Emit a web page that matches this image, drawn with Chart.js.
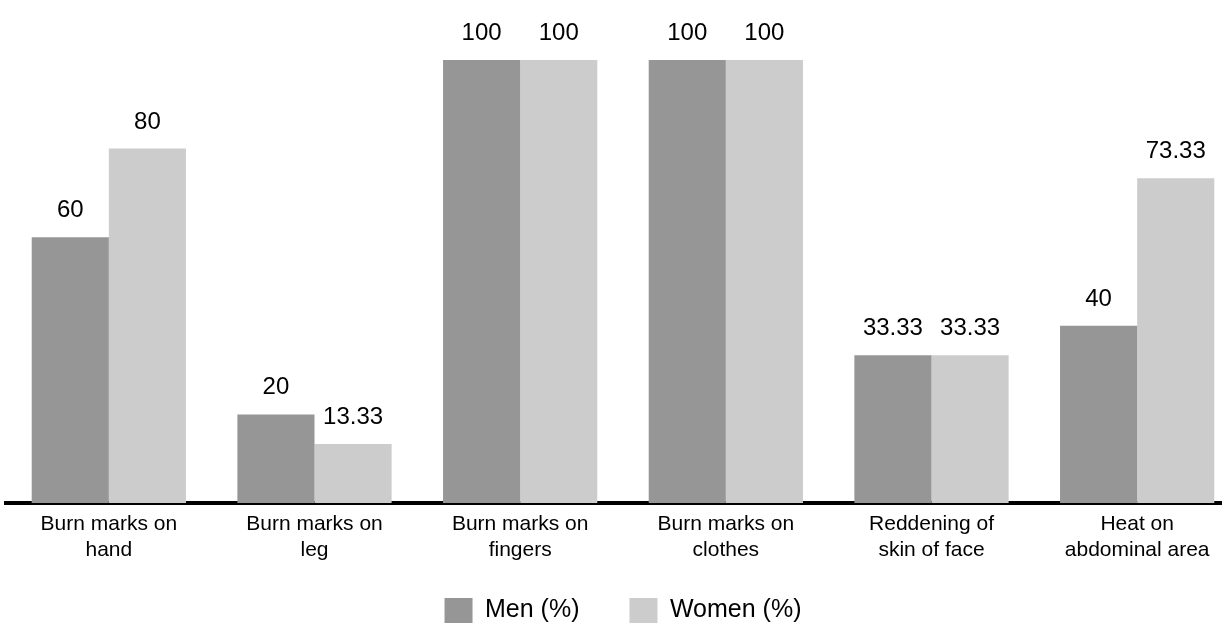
<!DOCTYPE html>
<html lang="en">
  <head>
    <meta charset="UTF-8" />
    <title>Burn marks by sex</title>
    <script src="https://cdn.jsdelivr.net/npm/chart.js"></script>
    <style>
      body {
        margin: 0;
        background: #fff;
        overflow: hidden;
      }
      canvas {
        display: block;
      }
    </style>
  </head>
  <body>
    <canvas id="burnChart" width="1240" height="633"></canvas>

    <script>
      const categories = [
        ["Burn marks on", "hand"],
        ["Burn marks on", "leg"],
        ["Burn marks on", "fingers"],
        ["Burn marks on", "clothes"],
        ["Reddening of", "skin of face"],
        ["Heat on", "abdominal area"],
      ];
      const menValues = [60, 20, 100, 100, 33.33, 40];
      const womenValues = [80, 13.33, 100, 100, 33.33, 73.33];
      const seriesNames = ["Men (%)", "Women (%)"];

      const fontFamily = "'Liberation Sans', Arial, sans-serif";

      // numbers above each bar
      const valueLabels = {
        id: "valueLabels",
        afterDatasetsDraw(chart) {
          const ctx = chart.ctx;
          ctx.save();
          ctx.font = "24px " + fontFamily;
          ctx.fillStyle = "#000";
          ctx.textAlign = "center";
          ctx.textBaseline = "alphabetic";
          chart.data.datasets.forEach((ds, i) => {
            chart.getDatasetMeta(i).data.forEach((bar, j) => {
              ctx.fillText(String(ds.data[j]), bar.x, bar.y - 20);
            });
          });
          ctx.restore();
        },
      };

      // the x axis box is kept short so the legend sits close,
      // but its two-line labels must not be clipped
      const unclipTicks = {
        id: "unclipTicks",
        afterLayout(chart) {
          chart.scales.x.bottom = chart.height;
        },
      };

      new Chart(document.getElementById("burnChart"), {
        type: "bar",
        data: {
          labels: categories,
          datasets: [
            {
              label: seriesNames[0],
              data: menValues,
              backgroundColor: "#969696",
              borderWidth: 0,
            },
            {
              label: seriesNames[1],
              data: womenValues,
              backgroundColor: "#cccccc",
              borderWidth: 0,
            },
          ],
        },
        options: {
          responsive: false,
          animation: false,
          devicePixelRatio: 1,
          categoryPercentage: 0.75,
          barPercentage: 1.0,
          layout: {
            padding: { top: 60, left: 6, right: 0, bottom: 0 },
          },
          scales: {
            x: {
              grid: { display: false, drawTicks: false },
              border: { display: true, color: "#000", width: 4 },
              ticks: {
                color: "#000",
                padding: 9,
                maxRotation: 0,
                font: { family: fontFamily, size: 21, lineHeight: 1.2 },
              },
              afterFit: (scale) => {
                scale.height = 45;
              },
            },
            y: {
              display: false,
              min: 0,
              max: 100,
            },
          },
          plugins: {
            tooltip: { enabled: false },
            legend: {
              position: "bottom",
              labels: {
                color: "#000",
                boxWidth: 28,
                boxHeight: 25,
                padding: 50,
                font: { family: fontFamily, size: 25 },
              },
            },
          },
        },
        plugins: [valueLabels, unclipTicks],
      });
    </script>
  </body>
</html>
